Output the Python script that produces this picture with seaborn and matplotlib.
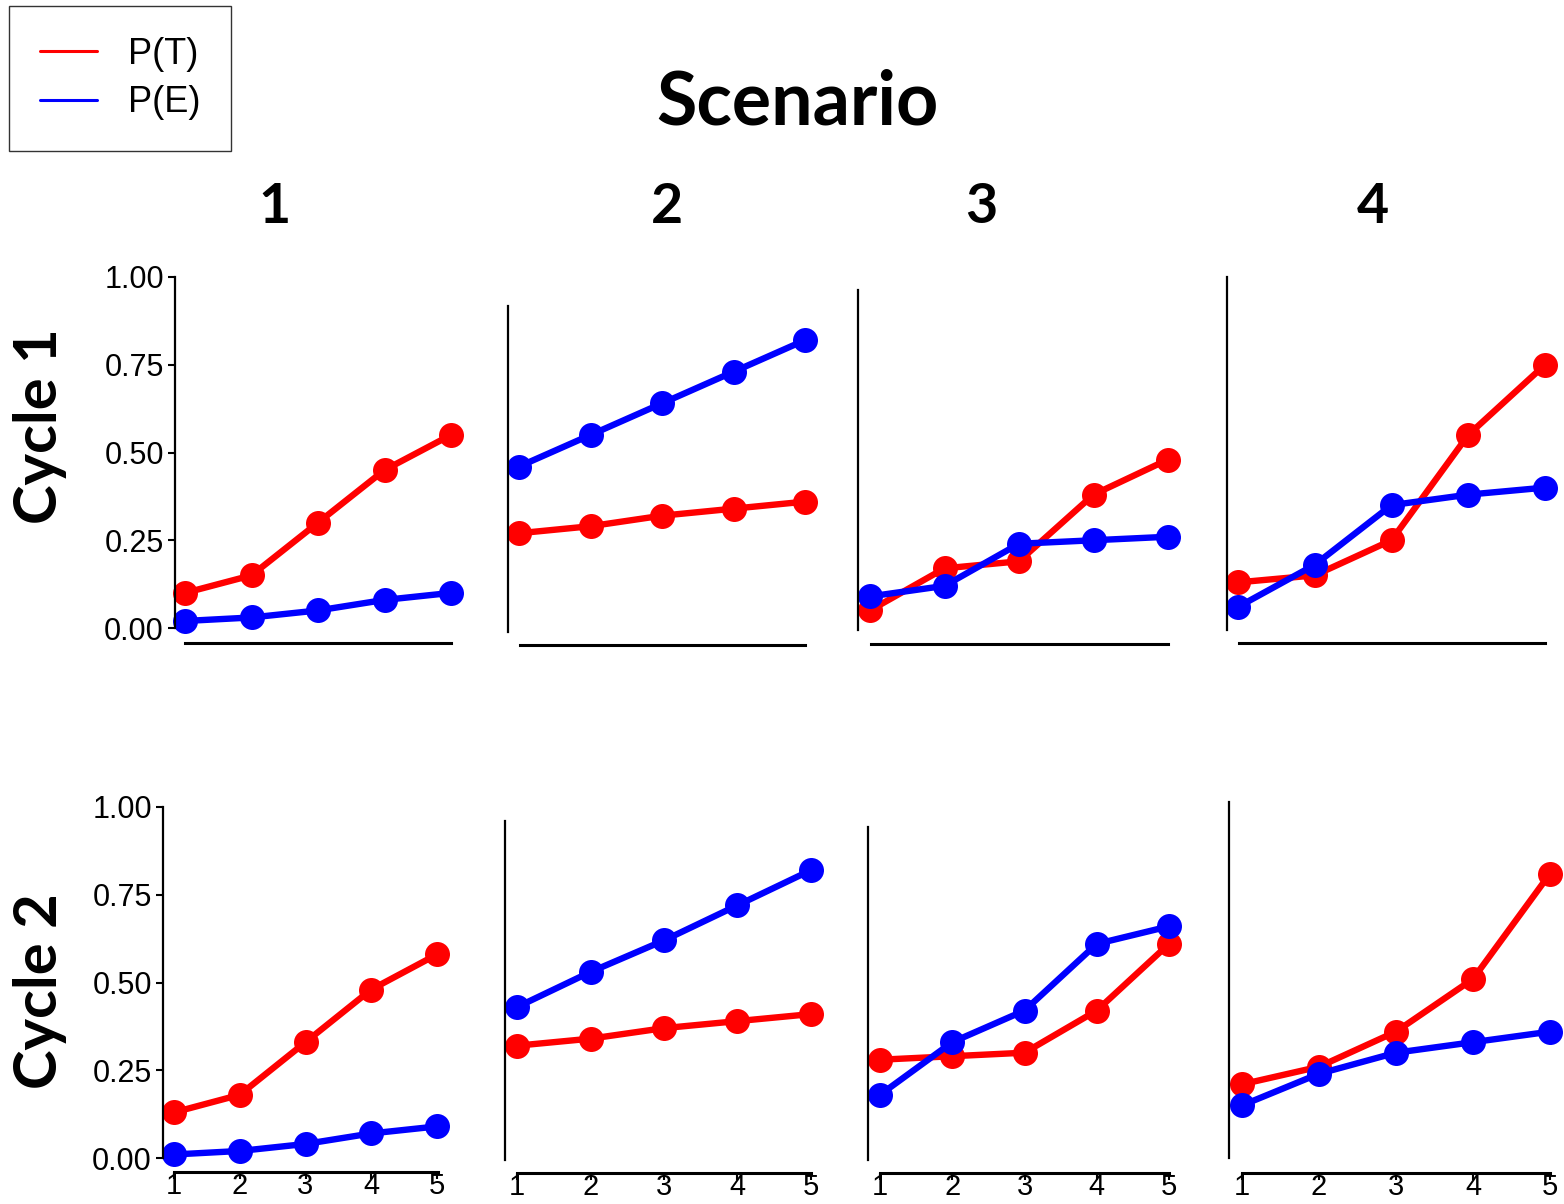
import matplotlib
matplotlib.use("Agg")
import matplotlib.pyplot as plt
from matplotlib.lines import Line2D
import pandas as pd
import seaborn as sns

# datos: probabilidad de toxicidad P(T) y eficacia P(E) por dosis
doses = [1, 2, 3, 4, 5]
scenarios = ["1", "2", "3", "4"]
cycles = ["Cycle 1", "Cycle 2"]

tox_cycle1 = [
    [0.10, 0.15, 0.30, 0.45, 0.55],
    [0.27, 0.29, 0.32, 0.34, 0.36],
    [0.05, 0.17, 0.19, 0.38, 0.48],
    [0.13, 0.15, 0.25, 0.55, 0.75],
]
eff_cycle1 = [
    [0.02, 0.03, 0.05, 0.08, 0.10],
    [0.46, 0.55, 0.64, 0.73, 0.82],
    [0.09, 0.12, 0.24, 0.25, 0.26],
    [0.06, 0.18, 0.35, 0.38, 0.40],
]
tox_cycle2 = [
    [0.13, 0.18, 0.33, 0.48, 0.58],
    [0.32, 0.34, 0.37, 0.39, 0.41],
    [0.28, 0.29, 0.30, 0.42, 0.61],
    [0.21, 0.26, 0.36, 0.51, 0.81],
]
eff_cycle2 = [
    [0.01, 0.02, 0.04, 0.07, 0.09],
    [0.43, 0.53, 0.62, 0.72, 0.82],
    [0.18, 0.33, 0.42, 0.61, 0.66],
    [0.15, 0.24, 0.30, 0.33, 0.36],
]
y_ticks = [0.00, 0.25, 0.50, 0.75, 1.00]
y_ticklabels = ["0.00", "0.25", "0.50", "0.75", "1.00"]

rows = []
for c, (tox, eff) in enumerate([(tox_cycle1, eff_cycle1), (tox_cycle2, eff_cycle2)]):
    for s in range(len(scenarios)):
        for d, t, e in zip(doses, tox[s], eff[s]):
            rows.append({"cycle": cycles[c], "scenario": scenarios[s], "dose": d, "outcome": "P(T)", "prob": t})
            rows.append({"cycle": cycles[c], "scenario": scenarios[s], "dose": d, "outcome": "P(E)", "prob": e})
df = pd.DataFrame(rows)

palette = {"P(T)": "#ff0000", "P(E)": "#0000ff"}

# geometría de cada panel en píxeles (la figura original es un collage)
# x1, x5, y0, y1, eje_y_x, eje_y_arriba, eje_y_abajo, eje_x_y, eje_x_izq, eje_x_der
panels = [
    [(185, 451, 628, 277, 175, 277, 628, 643, 185, 451),
     (519, 805, 628, 277, 508, 306, 632, 645, 520, 805),
     (870, 1168, 628, 277, 858, 290, 630, 644, 871, 1168),
     (1238, 1545, 628, 277, 1227, 277, 630, 643, 1239, 1545)],
    [(174, 437, 1158, 807, 163, 807, 1158, 1172, 174, 438),
     (517, 811, 1158, 807, 505, 821, 1160, 1173, 517, 811),
     (880, 1169, 1158, 807, 868, 827, 1160, 1173, 880, 1169),
     (1242, 1550, 1158, 807, 1229, 802, 1158, 1173, 1242, 1550)],
]

W, H = 1564, 1204
sns.set_theme(style="white")
tick_font = ["Liberation Sans Narrow", "Liberation Sans", "DejaVu Sans"]
title_font = ["Lato", "DejaVu Sans"]
plt.rcParams["font.family"] = tick_font
plt.rcParams["text.color"] = "black"

fig = plt.figure(figsize=(W / 100, H / 100), dpi=100)

for r, cycle in enumerate(cycles):
    for s, scen in enumerate(scenarios):
        x1, x5, y0, y1, yx, ytop, ybot, xy, xl, xr = panels[r][s]
        ax = fig.add_axes([x1 / W, 1 - y0 / H, (x5 - x1) / W, (y0 - y1) / H])
        sub = df[(df["cycle"] == cycle) & (df["scenario"] == scen)]
        sns.lineplot(
            data=sub, x="dose", y="prob", hue="outcome", hue_order=["P(T)", "P(E)"],
            palette=palette, marker="o", markersize=18, markeredgewidth=0,
            linewidth=4.6, legend=False, ax=ax, clip_on=False,
        )
        ax.set_xlim(1, 5)
        ax.set_ylim(0, 1)
        ax.set_xlabel("")
        ax.set_ylabel("")
        ax.set_facecolor("none")

        px2x = lambda p: 1 + (p - x1) / (x5 - x1) * 4
        px2y = lambda p: (y0 - p) / (y0 - y1)

        for side in ["top", "right"]:
            ax.spines[side].set_visible(False)
        ax.spines["left"].set_position(("data", px2x(yx)))
        ax.spines["left"].set_bounds(px2y(ybot), px2y(ytop))
        ax.spines["left"].set_color("black")
        ax.spines["left"].set_linewidth(1.6)
        ax.spines["bottom"].set_position(("data", px2y(xy)))
        ax.spines["bottom"].set_bounds(px2x(xl), px2x(xr))
        ax.spines["bottom"].set_color("black")
        ax.spines["bottom"].set_linewidth(2.2)

        if s == 0:
            ax.set_yticks(y_ticks)
            ax.set_yticklabels(y_ticklabels)
            ax.tick_params(axis="y", left=True, length=5, width=1.5, pad=3,
                           labelsize=22, colors="black")
        else:
            ax.set_yticks([])
        if r == 1:
            ax.set_xticks(doses)
            ax.set_xticklabels([str(d) for d in doses])
            ax.tick_params(axis="x", bottom=True, length=5, width=1.5, pad=-5,
                           labelsize=21, colors="black")
        else:
            ax.set_xticks([])
        ax.grid(False)

# títulos
fig.text(797 / W, 1 - 103 / H, "Scenario", ha="center", va="center", color="black",
         fontsize=53, fontweight="bold", family=title_font)
for x, lab in zip([275, 667, 981, 1373], scenarios):
    fig.text(x / W, 1 - 207 / H, lab, ha="center", va="center", color="black",
             fontsize=40, fontweight="bold", family=title_font)
for y, lab in zip([426, 991], cycles):
    fig.text(40 / W, 1 - y / H, lab, ha="center", va="center", rotation=90, color="black",
             fontsize=43, fontweight="bold", family=title_font)

# leyenda
handles = [Line2D([0], [0], color=palette[k], linewidth=2.2) for k in ["P(T)", "P(E)"]]
leg = fig.legend(
    handles, ["P(T)", "P(E)"], loc="upper left", bbox_to_anchor=(9 / W, 1 - 6 / H),
    frameon=True, fancybox=False, handlelength=1.6, handletextpad=0.85,
    labelspacing=0.38, borderpad=0.85, borderaxespad=0,
    prop={"family": "Liberation Sans", "size": 26},
)
leg.get_frame().set_edgecolor("black")
leg.get_frame().set_linewidth(1.0)
for t in leg.get_texts():
    t.set_color("black")

fig.savefig("out.png", dpi=100)
plt.close(fig)
